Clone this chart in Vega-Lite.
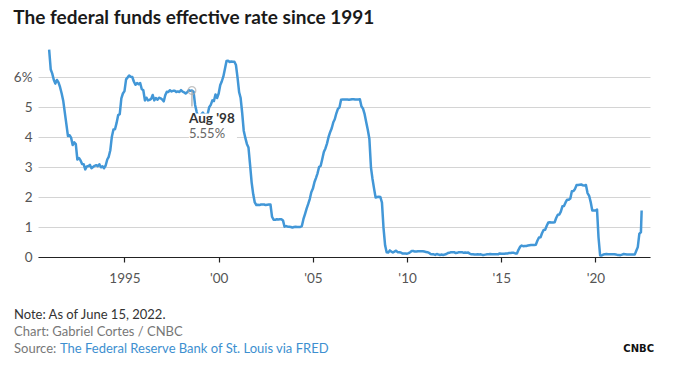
{
  "$schema": "https://vega.github.io/schema/vega-lite/v6.json",
  "background": "white",
  "padding": {"left": 13, "top": 9, "right": 10, "bottom": 5},
  "title": {"text": "The federal funds effective rate since 1991", "anchor": "start", "font": "Lato", "fontSize": 19, "fontWeight": "bold", "color": "#1a1a1a", "offset": 19},
  "config": {"view": {"stroke": null}, "font": "Lato"},
  "spacing": 21,
  "vconcat": [
    {
      "width": 612,
      "height": 210,
      "encoding": {
        "x": {
          "field": "date", "type": "temporal",
          "scale": {"domain": [{"year": 1990, "month": 5, "date": 30}, {"year": 2022, "month": 11, "date": 24}]},
          "axis": {
            "title": null, "grid": false,
            "values": [{"year": 1995}, {"year": 2000}, {"year": 2005}, {"year": 2010}, {"year": 2015}, {"year": 2020}],
            "labelExpr": "year(datum.value) == 1995 ? '1995' : \"'\" + timeFormat(datum.value, '%y')",
            "domainColor": "#222", "domainWidth": 1.2, "tickColor": "#222", "tickSize": 5, "tickWidth": 1.2,
            "labelFont": "Lato", "labelFontSize": 13.5, "labelColor": "#555", "labelPadding": 9
          }
        },
        "y": {
          "field": "rate", "type": "quantitative",
          "scale": {"domain": [0, 7], "nice": false},
          "axis": {
            "title": null, "values": [0, 1, 2, 3, 4, 5, 6], "labelOverlap": false, "tickCount": 7,
            "labelExpr": "datum.value == 6 ? '6%' : datum.label",
            "domain": false, "ticks": false, "gridColor": "#d4d4d4", "gridWidth": 1,
            "labelFont": "Lato", "labelFontSize": 13.5, "labelColor": "#555", "labelPadding": 6
          }
        }
      },
      "layer": [
        {
          "data": {"values": [
            {"date":"1991-01","rate":6.91},{"date":"1991-02","rate":6.25},{"date":"1991-03","rate":6.12},{"date":"1991-04","rate":5.91},{"date":"1991-05","rate":5.78},{"date":"1991-06","rate":5.90},{"date":"1991-07","rate":5.82},{"date":"1991-08","rate":5.66},{"date":"1991-09","rate":5.45},{"date":"1991-10","rate":5.21},{"date":"1991-11","rate":4.81},{"date":"1991-12","rate":4.43},
            {"date":"1992-01","rate":4.03},{"date":"1992-02","rate":4.06},{"date":"1992-03","rate":3.98},{"date":"1992-04","rate":3.73},{"date":"1992-05","rate":3.82},{"date":"1992-06","rate":3.76},{"date":"1992-07","rate":3.25},{"date":"1992-08","rate":3.30},{"date":"1992-09","rate":3.22},{"date":"1992-10","rate":3.10},{"date":"1992-11","rate":3.09},{"date":"1992-12","rate":2.92},
            {"date":"1993-01","rate":3.02},{"date":"1993-02","rate":3.03},{"date":"1993-03","rate":3.07},{"date":"1993-04","rate":2.96},{"date":"1993-05","rate":3.00},{"date":"1993-06","rate":3.04},{"date":"1993-07","rate":3.06},{"date":"1993-08","rate":3.03},{"date":"1993-09","rate":3.09},{"date":"1993-10","rate":2.99},{"date":"1993-11","rate":3.02},{"date":"1993-12","rate":2.96},
            {"date":"1994-01","rate":3.05},{"date":"1994-02","rate":3.25},{"date":"1994-03","rate":3.34},{"date":"1994-04","rate":3.56},{"date":"1994-05","rate":4.01},{"date":"1994-06","rate":4.25},{"date":"1994-07","rate":4.26},{"date":"1994-08","rate":4.47},{"date":"1994-09","rate":4.73},{"date":"1994-10","rate":4.76},{"date":"1994-11","rate":5.29},{"date":"1994-12","rate":5.45},
            {"date":"1995-01","rate":5.53},{"date":"1995-02","rate":5.92},{"date":"1995-03","rate":5.98},{"date":"1995-04","rate":6.05},{"date":"1995-05","rate":6.01},{"date":"1995-06","rate":6.00},{"date":"1995-07","rate":5.85},{"date":"1995-08","rate":5.74},{"date":"1995-09","rate":5.80},{"date":"1995-10","rate":5.76},{"date":"1995-11","rate":5.80},{"date":"1995-12","rate":5.60},
            {"date":"1996-01","rate":5.56},{"date":"1996-02","rate":5.22},{"date":"1996-03","rate":5.31},{"date":"1996-04","rate":5.22},{"date":"1996-05","rate":5.24},{"date":"1996-06","rate":5.27},{"date":"1996-07","rate":5.40},{"date":"1996-08","rate":5.22},{"date":"1996-09","rate":5.30},{"date":"1996-10","rate":5.24},{"date":"1996-11","rate":5.31},{"date":"1996-12","rate":5.29},
            {"date":"1997-01","rate":5.25},{"date":"1997-02","rate":5.19},{"date":"1997-03","rate":5.39},{"date":"1997-04","rate":5.51},{"date":"1997-05","rate":5.50},{"date":"1997-06","rate":5.56},{"date":"1997-07","rate":5.52},{"date":"1997-08","rate":5.54},{"date":"1997-09","rate":5.54},{"date":"1997-10","rate":5.50},{"date":"1997-11","rate":5.52},{"date":"1997-12","rate":5.50},
            {"date":"1998-01","rate":5.56},{"date":"1998-02","rate":5.51},{"date":"1998-03","rate":5.49},{"date":"1998-04","rate":5.45},{"date":"1998-05","rate":5.49},{"date":"1998-06","rate":5.56},{"date":"1998-07","rate":5.54},{"date":"1998-08","rate":5.55},{"date":"1998-09","rate":5.51},{"date":"1998-10","rate":5.07},{"date":"1998-11","rate":4.83},{"date":"1998-12","rate":4.68},
            {"date":"1999-01","rate":4.63},{"date":"1999-02","rate":4.76},{"date":"1999-03","rate":4.81},{"date":"1999-04","rate":4.74},{"date":"1999-05","rate":4.74},{"date":"1999-06","rate":4.76},{"date":"1999-07","rate":4.99},{"date":"1999-08","rate":5.07},{"date":"1999-09","rate":5.22},{"date":"1999-10","rate":5.20},{"date":"1999-11","rate":5.42},{"date":"1999-12","rate":5.30},
            {"date":"2000-01","rate":5.45},{"date":"2000-02","rate":5.73},{"date":"2000-03","rate":5.85},{"date":"2000-04","rate":6.02},{"date":"2000-05","rate":6.27},{"date":"2000-06","rate":6.53},{"date":"2000-07","rate":6.54},{"date":"2000-08","rate":6.50},{"date":"2000-09","rate":6.52},{"date":"2000-10","rate":6.51},{"date":"2000-11","rate":6.51},{"date":"2000-12","rate":6.40},
            {"date":"2001-01","rate":5.98},{"date":"2001-02","rate":5.49},{"date":"2001-03","rate":5.31},{"date":"2001-04","rate":4.80},{"date":"2001-05","rate":4.21},{"date":"2001-06","rate":3.97},{"date":"2001-07","rate":3.77},{"date":"2001-08","rate":3.65},{"date":"2001-09","rate":3.07},{"date":"2001-10","rate":2.49},{"date":"2001-11","rate":2.09},{"date":"2001-12","rate":1.82},
            {"date":"2002-01","rate":1.73},{"date":"2002-02","rate":1.74},{"date":"2002-03","rate":1.73},{"date":"2002-04","rate":1.75},{"date":"2002-05","rate":1.75},{"date":"2002-06","rate":1.75},{"date":"2002-07","rate":1.73},{"date":"2002-08","rate":1.74},{"date":"2002-09","rate":1.75},{"date":"2002-10","rate":1.75},{"date":"2002-11","rate":1.34},{"date":"2002-12","rate":1.24},
            {"date":"2003-01","rate":1.24},{"date":"2003-02","rate":1.26},{"date":"2003-03","rate":1.25},{"date":"2003-04","rate":1.26},{"date":"2003-05","rate":1.26},{"date":"2003-06","rate":1.22},{"date":"2003-07","rate":1.01},{"date":"2003-08","rate":1.03},{"date":"2003-09","rate":1.01},{"date":"2003-10","rate":1.01},{"date":"2003-11","rate":1.00},{"date":"2003-12","rate":0.98},
            {"date":"2004-01","rate":1.00},{"date":"2004-02","rate":1.01},{"date":"2004-03","rate":1.00},{"date":"2004-04","rate":1.00},{"date":"2004-05","rate":1.00},{"date":"2004-06","rate":1.03},{"date":"2004-07","rate":1.26},{"date":"2004-08","rate":1.43},{"date":"2004-09","rate":1.61},{"date":"2004-10","rate":1.76},{"date":"2004-11","rate":1.93},{"date":"2004-12","rate":2.16},
            {"date":"2005-01","rate":2.28},{"date":"2005-02","rate":2.50},{"date":"2005-03","rate":2.63},{"date":"2005-04","rate":2.79},{"date":"2005-05","rate":3.00},{"date":"2005-06","rate":3.04},{"date":"2005-07","rate":3.26},{"date":"2005-08","rate":3.50},{"date":"2005-09","rate":3.62},{"date":"2005-10","rate":3.78},{"date":"2005-11","rate":4.00},{"date":"2005-12","rate":4.16},
            {"date":"2006-01","rate":4.29},{"date":"2006-02","rate":4.49},{"date":"2006-03","rate":4.59},{"date":"2006-04","rate":4.79},{"date":"2006-05","rate":4.94},{"date":"2006-06","rate":4.99},{"date":"2006-07","rate":5.24},{"date":"2006-08","rate":5.25},{"date":"2006-09","rate":5.25},{"date":"2006-10","rate":5.25},{"date":"2006-11","rate":5.25},{"date":"2006-12","rate":5.24},
            {"date":"2007-01","rate":5.25},{"date":"2007-02","rate":5.26},{"date":"2007-03","rate":5.26},{"date":"2007-04","rate":5.25},{"date":"2007-05","rate":5.25},{"date":"2007-06","rate":5.25},{"date":"2007-07","rate":5.26},{"date":"2007-08","rate":5.02},{"date":"2007-09","rate":4.94},{"date":"2007-10","rate":4.76},{"date":"2007-11","rate":4.49},{"date":"2007-12","rate":4.24},
            {"date":"2008-01","rate":3.94},{"date":"2008-02","rate":2.98},{"date":"2008-03","rate":2.61},{"date":"2008-04","rate":2.28},{"date":"2008-05","rate":1.98},{"date":"2008-06","rate":2.00},{"date":"2008-07","rate":2.01},{"date":"2008-08","rate":2.00},{"date":"2008-09","rate":1.81},{"date":"2008-10","rate":0.97},{"date":"2008-11","rate":0.39},{"date":"2008-12","rate":0.16},
            {"date":"2009-01","rate":0.15},{"date":"2009-02","rate":0.22},{"date":"2009-03","rate":0.18},{"date":"2009-04","rate":0.15},{"date":"2009-05","rate":0.18},{"date":"2009-06","rate":0.21},{"date":"2009-07","rate":0.16},{"date":"2009-08","rate":0.16},{"date":"2009-09","rate":0.15},{"date":"2009-10","rate":0.12},{"date":"2009-11","rate":0.12},{"date":"2009-12","rate":0.12},
            {"date":"2010-01","rate":0.11},{"date":"2010-02","rate":0.13},{"date":"2010-03","rate":0.16},{"date":"2010-04","rate":0.20},{"date":"2010-05","rate":0.20},{"date":"2010-06","rate":0.18},{"date":"2010-07","rate":0.18},{"date":"2010-08","rate":0.19},{"date":"2010-09","rate":0.19},{"date":"2010-10","rate":0.19},{"date":"2010-11","rate":0.19},{"date":"2010-12","rate":0.18},
            {"date":"2011-01","rate":0.17},{"date":"2011-02","rate":0.16},{"date":"2011-03","rate":0.14},{"date":"2011-04","rate":0.10},{"date":"2011-05","rate":0.09},{"date":"2011-06","rate":0.09},{"date":"2011-07","rate":0.07},{"date":"2011-08","rate":0.10},{"date":"2011-09","rate":0.08},{"date":"2011-10","rate":0.07},{"date":"2011-11","rate":0.08},{"date":"2011-12","rate":0.07},
            {"date":"2012-01","rate":0.08},{"date":"2012-02","rate":0.10},{"date":"2012-03","rate":0.13},{"date":"2012-04","rate":0.14},{"date":"2012-05","rate":0.16},{"date":"2012-06","rate":0.16},{"date":"2012-07","rate":0.16},{"date":"2012-08","rate":0.13},{"date":"2012-09","rate":0.14},{"date":"2012-10","rate":0.16},{"date":"2012-11","rate":0.16},{"date":"2012-12","rate":0.16},
            {"date":"2013-01","rate":0.14},{"date":"2013-02","rate":0.15},{"date":"2013-03","rate":0.14},{"date":"2013-04","rate":0.15},{"date":"2013-05","rate":0.11},{"date":"2013-06","rate":0.09},{"date":"2013-07","rate":0.09},{"date":"2013-08","rate":0.08},{"date":"2013-09","rate":0.08},{"date":"2013-10","rate":0.09},{"date":"2013-11","rate":0.08},{"date":"2013-12","rate":0.09},
            {"date":"2014-01","rate":0.07},{"date":"2014-02","rate":0.07},{"date":"2014-03","rate":0.08},{"date":"2014-04","rate":0.09},{"date":"2014-05","rate":0.09},{"date":"2014-06","rate":0.10},{"date":"2014-07","rate":0.09},{"date":"2014-08","rate":0.09},{"date":"2014-09","rate":0.09},{"date":"2014-10","rate":0.09},{"date":"2014-11","rate":0.09},{"date":"2014-12","rate":0.12},
            {"date":"2015-01","rate":0.11},{"date":"2015-02","rate":0.11},{"date":"2015-03","rate":0.11},{"date":"2015-04","rate":0.12},{"date":"2015-05","rate":0.12},{"date":"2015-06","rate":0.13},{"date":"2015-07","rate":0.13},{"date":"2015-08","rate":0.14},{"date":"2015-09","rate":0.14},{"date":"2015-10","rate":0.12},{"date":"2015-11","rate":0.12},{"date":"2015-12","rate":0.24},
            {"date":"2016-01","rate":0.34},{"date":"2016-02","rate":0.38},{"date":"2016-03","rate":0.36},{"date":"2016-04","rate":0.37},{"date":"2016-05","rate":0.37},{"date":"2016-06","rate":0.38},{"date":"2016-07","rate":0.39},{"date":"2016-08","rate":0.40},{"date":"2016-09","rate":0.40},{"date":"2016-10","rate":0.40},{"date":"2016-11","rate":0.41},{"date":"2016-12","rate":0.54},
            {"date":"2017-01","rate":0.65},{"date":"2017-02","rate":0.66},{"date":"2017-03","rate":0.79},{"date":"2017-04","rate":0.90},{"date":"2017-05","rate":0.91},{"date":"2017-06","rate":1.04},{"date":"2017-07","rate":1.15},{"date":"2017-08","rate":1.16},{"date":"2017-09","rate":1.15},{"date":"2017-10","rate":1.15},{"date":"2017-11","rate":1.16},{"date":"2017-12","rate":1.30},
            {"date":"2018-01","rate":1.41},{"date":"2018-02","rate":1.42},{"date":"2018-03","rate":1.51},{"date":"2018-04","rate":1.69},{"date":"2018-05","rate":1.70},{"date":"2018-06","rate":1.82},{"date":"2018-07","rate":1.91},{"date":"2018-08","rate":1.91},{"date":"2018-09","rate":1.95},{"date":"2018-10","rate":2.19},{"date":"2018-11","rate":2.20},{"date":"2018-12","rate":2.27},
            {"date":"2019-01","rate":2.40},{"date":"2019-02","rate":2.40},{"date":"2019-03","rate":2.41},{"date":"2019-04","rate":2.42},{"date":"2019-05","rate":2.39},{"date":"2019-06","rate":2.38},{"date":"2019-07","rate":2.40},{"date":"2019-08","rate":2.13},{"date":"2019-09","rate":2.04},{"date":"2019-10","rate":1.83},{"date":"2019-11","rate":1.55},{"date":"2019-12","rate":1.55},
            {"date":"2020-01","rate":1.55},{"date":"2020-02","rate":1.58},{"date":"2020-03","rate":0.65},{"date":"2020-04","rate":0.05},{"date":"2020-05","rate":0.05},{"date":"2020-06","rate":0.08},{"date":"2020-07","rate":0.09},{"date":"2020-08","rate":0.10},{"date":"2020-09","rate":0.09},{"date":"2020-10","rate":0.09},{"date":"2020-11","rate":0.09},{"date":"2020-12","rate":0.09},
            {"date":"2021-01","rate":0.09},{"date":"2021-02","rate":0.08},{"date":"2021-03","rate":0.07},{"date":"2021-04","rate":0.07},{"date":"2021-05","rate":0.06},{"date":"2021-06","rate":0.08},{"date":"2021-07","rate":0.10},{"date":"2021-08","rate":0.09},{"date":"2021-09","rate":0.08},{"date":"2021-10","rate":0.08},{"date":"2021-11","rate":0.08},{"date":"2021-12","rate":0.08},
            {"date":"2022-01","rate":0.08},{"date":"2022-02","rate":0.08},{"date":"2022-03","rate":0.20},{"date":"2022-04","rate":0.33},{"date":"2022-05","rate":0.77},{"date":"2022-06-01","rate":0.83},{"date":"2022-06-15","rate":1.55}
          ]},
          "mark": {"type": "line", "color": "#4297d7", "strokeWidth": 2.5, "strokeJoin": "round"}
        },
        {
          "data": {"values": [{"date": "1998-08", "rate": 5.55, "label": "Aug '98", "value": "5.55%"}]},
          "layer": [
            {"mark": {"type": "rule", "color": "#a8a8a8", "strokeWidth": 1.2},
             "encoding": {"y2": {"datum": 5.02}}},
            {"mark": {"type": "point", "shape": "circle", "filled": false, "stroke": "#aaaaaa", "strokeWidth": 1.2, "size": 60}},
            {"mark": {"type": "rect", "color": "white", "x2Offset": 45, "xOffset": -3, "yOffset": 23, "y2Offset": 51},
             "encoding": {"x2": {"field": "date"}, "y2": {"field": "rate"}}},
            {"mark": {"type": "text", "align": "left", "baseline": "middle", "dx": -3, "dy": 28, "font": "Lato", "fontSize": 13.5, "fontWeight": "bold", "color": "#333"},
             "encoding": {"text": {"field": "label"}}},
            {"mark": {"type": "text", "align": "left", "baseline": "middle", "dx": -3, "dy": 43, "font": "Lato", "fontSize": 13, "color": "#666"},
             "encoding": {"text": {"field": "value"}}}
          ]
        }
      ]
    },
    {
      "width": 640,
      "height": {"step": 17},
      "data": {"values": [
        {"row": 1, "text": "Note: As of June 15, 2022.", "kind": "note"},
        {"row": 2, "text": "Chart: Gabriel Cortes / CNBC", "kind": "chart"},
        {"row": 3, "text": "Source:", "kind": "source"},
        {"row": 3, "text": "The Federal Reserve Bank of St. Louis via FRED", "kind": "link"}
      ]},
      "layer": [
        {
          "transform": [{"filter": "datum.kind != 'link'"}],
          "mark": {"type": "text", "align": "left", "baseline": "middle", "font": "Lato", "fontSize": 13, "dx": -24},
          "encoding": {
            "x": {"value": 0},
            "y": {"field": "row", "type": "ordinal", "axis": null},
            "text": {"field": "text"},
            "color": {"field": "kind", "type": "nominal", "legend": null,
              "scale": {"domain": ["note", "chart", "source", "link"], "range": ["#333333", "#777777", "#777777", "#3d8fd0"]}}
          }
        },
        {
          "transform": [{"filter": "datum.kind == 'link'"}],
          "mark": {"type": "text", "align": "left", "baseline": "middle", "font": "Lato", "fontSize": 13, "dx": 22},
          "encoding": {
            "x": {"value": 0},
            "y": {"field": "row", "type": "ordinal", "axis": null},
            "text": {"field": "text"},
            "color": {"field": "kind", "type": "nominal", "legend": null}
          }
        },
        {
          "data": {"values": [{"row": 3, "text": "CNBC"}]},
          "mark": {"type": "text", "align": "right", "baseline": "middle", "font": "DejaVu Sans", "fontSize": 10, "fontWeight": "bold", "color": "#111", "dx": -24},
          "encoding": {
            "x": {"value": "width"},
            "y": {"field": "row", "type": "ordinal", "axis": null},
            "text": {"field": "text"}
          }
        }
      ]
    }
  ]
}
